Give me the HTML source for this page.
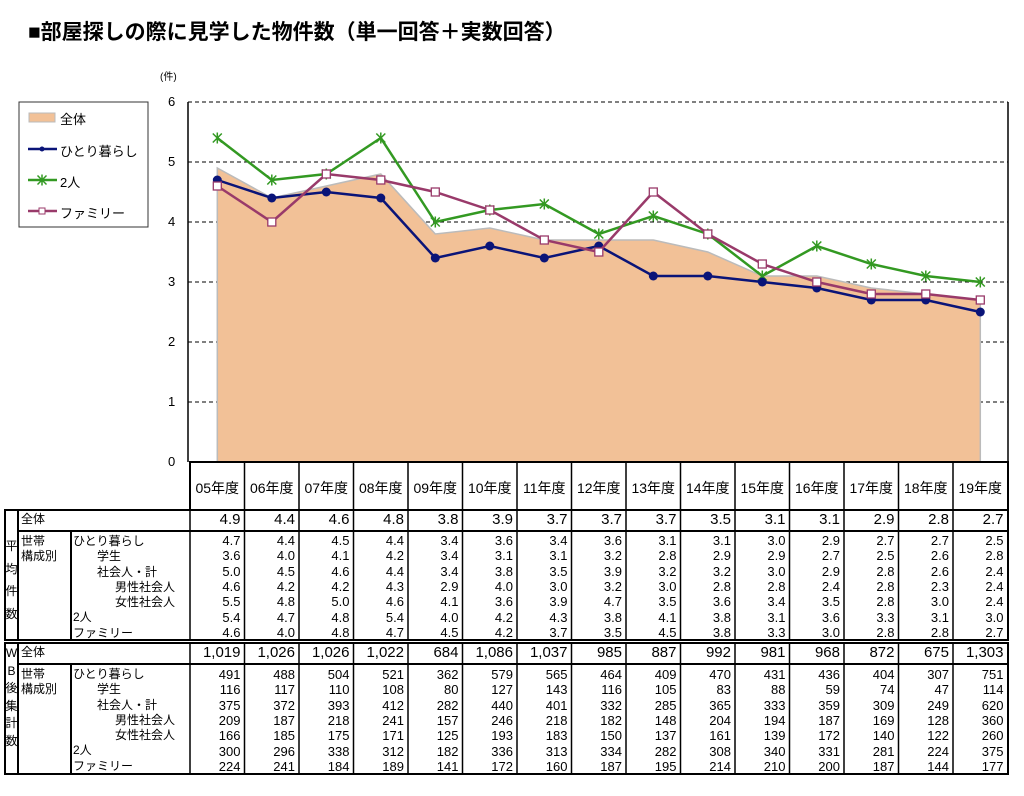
<!DOCTYPE html>
<html><head><meta charset="utf-8"><style>
body{margin:0;width:1024px;height:796px;background:#fff;position:relative;overflow:hidden;font-family:"Liberation Sans","Noto Sans CJK JP",sans-serif;color:#000}
.a{position:absolute;white-space:nowrap}
.r{position:absolute;left:190px;display:flex;font-size:13px;line-height:15px}
.r span{display:block;width:54.5px;text-align:right;padding-right:4px;box-sizing:border-box}
.big{font-size:15px;line-height:18px}
.l{position:absolute;font-size:12px;line-height:15px;white-space:nowrap}
.v{position:absolute;left:5px;width:13px;text-align:center;font-size:12px;line-height:15px}
.h{position:absolute;top:478px;display:flex;left:190px;font-size:14px}
.h span{display:block;width:54.5px;text-align:center}
</style></head><body>
<div class="a" style="left:28px;top:16px;font-size:21px;font-weight:bold">■部屋探しの際に見学した物件数（単一回答＋実数回答）</div>
<svg class="a" style="left:0;top:0" width="1024" height="796">
<defs>
<g id="st"><path d="M-4.5,-4.5L4.5,4.5M-4.5,4.5L4.5,-4.5M0,-5.5L0,5.5" stroke="#339922" stroke-width="1.5" fill="none"/></g>
</defs>
<g stroke="#000" stroke-width="1" stroke-dasharray="4,3">
<line x1="188" y1="102" x2="1008" y2="102"/>
<line x1="188" y1="162" x2="1008" y2="162"/>
<line x1="188" y1="222" x2="1008" y2="222"/>
<line x1="188" y1="282" x2="1008" y2="282"/>
<line x1="188" y1="342" x2="1008" y2="342"/>
<line x1="188" y1="402" x2="1008" y2="402"/>
</g>
<polygon points="217.3,462 217.3,168 271.8,198 326.3,186 380.8,174 435.3,234 489.8,228 544.3,240 598.8,240 653.3,240 707.8,252 762.3,276 816.8,276 871.3,288 925.8,294 980.3,300 980.3,462" fill="#f2c197" stroke="#bbb" stroke-width="1.5"/>
<line x1="188" y1="102" x2="188" y2="462" stroke="#000" stroke-width="1.5"/>
<line x1="1008" y1="102" x2="1008" y2="462" stroke="#000" stroke-width="1.5"/>
<polyline points="217.3,138 271.8,180 326.3,174 380.8,138 435.3,222 489.8,210 544.3,204 598.8,234 653.3,216 707.8,234 762.3,276 816.8,246 871.3,264 925.8,276 980.3,282" fill="none" stroke="#339922" stroke-width="2.5"/>
<g>
<use href="#st" x="217.3" y="138"/><use href="#st" x="271.8" y="180"/><use href="#st" x="326.3" y="174"/><use href="#st" x="380.8" y="138"/><use href="#st" x="435.3" y="222"/><use href="#st" x="489.8" y="210"/><use href="#st" x="544.3" y="204"/><use href="#st" x="598.8" y="234"/><use href="#st" x="653.3" y="216"/><use href="#st" x="707.8" y="234"/><use href="#st" x="762.3" y="276"/><use href="#st" x="816.8" y="246"/><use href="#st" x="871.3" y="264"/><use href="#st" x="925.8" y="276"/><use href="#st" x="980.3" y="282"/>
</g>
<polyline points="217.3,180 271.8,198 326.3,192 380.8,198 435.3,258 489.8,246 544.3,258 598.8,246 653.3,276 707.8,276 762.3,282 816.8,288 871.3,300 925.8,300 980.3,312" fill="none" stroke="#0a1478" stroke-width="2.5"/>
<g fill="#0a1478">
<circle cx="217.3" cy="180" r="4.5"/><circle cx="271.8" cy="198" r="4.5"/><circle cx="326.3" cy="192" r="4.5"/><circle cx="380.8" cy="198" r="4.5"/><circle cx="435.3" cy="258" r="4.5"/><circle cx="489.8" cy="246" r="4.5"/><circle cx="544.3" cy="258" r="4.5"/><circle cx="598.8" cy="246" r="4.5"/><circle cx="653.3" cy="276" r="4.5"/><circle cx="707.8" cy="276" r="4.5"/><circle cx="762.3" cy="282" r="4.5"/><circle cx="816.8" cy="288" r="4.5"/><circle cx="871.3" cy="300" r="4.5"/><circle cx="925.8" cy="300" r="4.5"/><circle cx="980.3" cy="312" r="4.5"/>
</g>
<polyline points="217.3,186 271.8,222 326.3,174 380.8,180 435.3,192 489.8,210 544.3,240 598.8,252 653.3,192 707.8,234 762.3,264 816.8,282 871.3,294 925.8,294 980.3,300" fill="none" stroke="#993a6a" stroke-width="2.5"/>
<g fill="#fff" stroke="#993a6a" stroke-width="1.3">
<rect x="213.3" y="182" width="8" height="8"/><rect x="267.8" y="218" width="8" height="8"/><rect x="322.3" y="170" width="8" height="8"/><rect x="376.8" y="176" width="8" height="8"/><rect x="431.3" y="188" width="8" height="8"/><rect x="485.8" y="206" width="8" height="8"/><rect x="540.3" y="236" width="8" height="8"/><rect x="594.8" y="248" width="8" height="8"/><rect x="649.3" y="188" width="8" height="8"/><rect x="703.8" y="230" width="8" height="8"/><rect x="758.3" y="260" width="8" height="8"/><rect x="812.8" y="278" width="8" height="8"/><rect x="867.3" y="290" width="8" height="8"/><rect x="921.8" y="290" width="8" height="8"/><rect x="976.3" y="296" width="8" height="8"/>
</g>
<rect x="19" y="102" width="129" height="125" fill="#fff" stroke="#333" stroke-width="1"/>
<rect x="29" y="113" width="26" height="9" fill="#f2c197" stroke="#bbb"/>
<line x1="28" y1="149" x2="57" y2="149" stroke="#0a1478" stroke-width="2.5"/><circle cx="42" cy="149" r="2.5" fill="#0a1478"/>
<line x1="28" y1="180" x2="57" y2="180" stroke="#339922" stroke-width="2.5"/><use href="#st" x="42" y="180"/>
<line x1="28" y1="211" x2="57" y2="211" stroke="#993a6a" stroke-width="2.5"/><rect x="39" y="208" width="6" height="6" fill="#fff" stroke="#993a6a"/>
<g stroke="#000" stroke-width="2" fill="none">
<rect x="190" y="462" width="818" height="48"/>
<rect x="5" y="510" width="1003" height="130"/>
<rect x="5" y="643" width="1003" height="131"/>
<line x1="18" y1="531" x2="1008" y2="531"/>
<line x1="18" y1="664" x2="1008" y2="664"/>
<line x1="18" y1="510" x2="18" y2="640"/>
<line x1="18" y1="643" x2="18" y2="774"/>
<line x1="71" y1="531" x2="71" y2="640"/>
<line x1="71" y1="664" x2="71" y2="774"/>
</g>
<g stroke="#000" stroke-width="1.5">
<line x1="190" y1="462" x2="190" y2="774"/><line x1="244.5" y1="462" x2="244.5" y2="774"/><line x1="299" y1="462" x2="299" y2="774"/><line x1="353.5" y1="462" x2="353.5" y2="774"/><line x1="408" y1="462" x2="408" y2="774"/><line x1="462.5" y1="462" x2="462.5" y2="774"/><line x1="517" y1="462" x2="517" y2="774"/><line x1="571.5" y1="462" x2="571.5" y2="774"/><line x1="626" y1="462" x2="626" y2="774"/><line x1="680.5" y1="462" x2="680.5" y2="774"/><line x1="735" y1="462" x2="735" y2="774"/><line x1="789.5" y1="462" x2="789.5" y2="774"/><line x1="844" y1="462" x2="844" y2="774"/><line x1="898.5" y1="462" x2="898.5" y2="774"/><line x1="953" y1="462" x2="953" y2="774"/>
</g>
<line x1="5" y1="641.5" x2="1008" y2="641.5" stroke="#fff" stroke-width="1"/>
</svg>
<div class="a" style="left:160px;top:68px;font-size:10px">(件)</div>
<div class="a" style="left:168px;top:94px;font-size:13px">6</div>
<div class="a" style="left:168px;top:154px;font-size:13px">5</div>
<div class="a" style="left:168px;top:214px;font-size:13px">4</div>
<div class="a" style="left:168px;top:274px;font-size:13px">3</div>
<div class="a" style="left:168px;top:334px;font-size:13px">2</div>
<div class="a" style="left:168px;top:394px;font-size:13px">1</div>
<div class="a" style="left:168px;top:454px;font-size:13px">0</div>
<div class="a" style="left:60px;top:109px;font-size:13px">全体</div>
<div class="a" style="left:60px;top:141px;font-size:13px">ひとり暮らし</div>
<div class="a" style="left:60px;top:172px;font-size:13px">2人</div>
<div class="a" style="left:60px;top:203px;font-size:13px">ファミリー</div>
<div class="h"><span>05年度</span><span>06年度</span><span>07年度</span><span>08年度</span><span>09年度</span><span>10年度</span><span>11年度</span><span>12年度</span><span>13年度</span><span>14年度</span><span>15年度</span><span>16年度</span><span>17年度</span><span>18年度</span><span>19年度</span></div>
<div class="l" style="left:21px;top:512px">全体</div>
<div class="l" style="left:21px;top:645px">全体</div>
<div class="l" style="left:21px;top:534px">世帯<br>構成別</div>
<div class="l" style="left:21px;top:667px">世帯<br>構成別</div>
<div class="l" style="left:73px;top:534px;line-height:15.3px">ひとり暮らし<br>&emsp;&emsp;学生<br>&emsp;&emsp;社会人・計<br>&emsp;&emsp;&emsp;&ensp;男性社会人<br>&emsp;&emsp;&emsp;&ensp;女性社会人<br>2人<br>ファミリー</div>
<div class="l" style="left:73px;top:667px;line-height:15.3px">ひとり暮らし<br>&emsp;&emsp;学生<br>&emsp;&emsp;社会人・計<br>&emsp;&emsp;&emsp;&ensp;男性社会人<br>&emsp;&emsp;&emsp;&ensp;女性社会人<br>2人<br>ファミリー</div>
<div class="v" style="top:535px;line-height:22.5px">平<br>均<br>件<br>数</div>
<div class="v" style="top:645px;line-height:17.5px">W<br>B<br>後<br>集<br>計<br>数</div>
<div class="r big" style="top:511px"><span>4.9</span><span>4.4</span><span>4.6</span><span>4.8</span><span>3.8</span><span>3.9</span><span>3.7</span><span>3.7</span><span>3.7</span><span>3.5</span><span>3.1</span><span>3.1</span><span>2.9</span><span>2.8</span><span>2.7</span></div>
<div class="r" style="top:533px"><span>4.7</span><span>4.4</span><span>4.5</span><span>4.4</span><span>3.4</span><span>3.6</span><span>3.4</span><span>3.6</span><span>3.1</span><span>3.1</span><span>3.0</span><span>2.9</span><span>2.7</span><span>2.7</span><span>2.5</span></div>
<div class="r" style="top:548.3px"><span>3.6</span><span>4.0</span><span>4.1</span><span>4.2</span><span>3.4</span><span>3.1</span><span>3.1</span><span>3.2</span><span>2.8</span><span>2.9</span><span>2.9</span><span>2.7</span><span>2.5</span><span>2.6</span><span>2.8</span></div>
<div class="r" style="top:563.6px"><span>5.0</span><span>4.5</span><span>4.6</span><span>4.4</span><span>3.4</span><span>3.8</span><span>3.5</span><span>3.9</span><span>3.2</span><span>3.2</span><span>3.0</span><span>2.9</span><span>2.8</span><span>2.6</span><span>2.4</span></div>
<div class="r" style="top:578.9px"><span>4.6</span><span>4.2</span><span>4.2</span><span>4.3</span><span>2.9</span><span>4.0</span><span>3.0</span><span>3.2</span><span>3.0</span><span>2.8</span><span>2.8</span><span>2.4</span><span>2.8</span><span>2.3</span><span>2.4</span></div>
<div class="r" style="top:594.2px"><span>5.5</span><span>4.8</span><span>5.0</span><span>4.6</span><span>4.1</span><span>3.6</span><span>3.9</span><span>4.7</span><span>3.5</span><span>3.6</span><span>3.4</span><span>3.5</span><span>2.8</span><span>3.0</span><span>2.4</span></div>
<div class="r" style="top:609.5px"><span>5.4</span><span>4.7</span><span>4.8</span><span>5.4</span><span>4.0</span><span>4.2</span><span>4.3</span><span>3.8</span><span>4.1</span><span>3.8</span><span>3.1</span><span>3.6</span><span>3.3</span><span>3.1</span><span>3.0</span></div>
<div class="r" style="top:624.8px"><span>4.6</span><span>4.0</span><span>4.8</span><span>4.7</span><span>4.5</span><span>4.2</span><span>3.7</span><span>3.5</span><span>4.5</span><span>3.8</span><span>3.3</span><span>3.0</span><span>2.8</span><span>2.8</span><span>2.7</span></div>
<div class="r big" style="top:644px"><span>1,019</span><span>1,026</span><span>1,026</span><span>1,022</span><span>684</span><span>1,086</span><span>1,037</span><span>985</span><span>887</span><span>992</span><span>981</span><span>968</span><span>872</span><span>675</span><span>1,303</span></div>
<div class="r" style="top:667px"><span>491</span><span>488</span><span>504</span><span>521</span><span>362</span><span>579</span><span>565</span><span>464</span><span>409</span><span>470</span><span>431</span><span>436</span><span>404</span><span>307</span><span>751</span></div>
<div class="r" style="top:682.3px"><span>116</span><span>117</span><span>110</span><span>108</span><span>80</span><span>127</span><span>143</span><span>116</span><span>105</span><span>83</span><span>88</span><span>59</span><span>74</span><span>47</span><span>114</span></div>
<div class="r" style="top:697.6px"><span>375</span><span>372</span><span>393</span><span>412</span><span>282</span><span>440</span><span>401</span><span>332</span><span>285</span><span>365</span><span>333</span><span>359</span><span>309</span><span>249</span><span>620</span></div>
<div class="r" style="top:712.9px"><span>209</span><span>187</span><span>218</span><span>241</span><span>157</span><span>246</span><span>218</span><span>182</span><span>148</span><span>204</span><span>194</span><span>187</span><span>169</span><span>128</span><span>360</span></div>
<div class="r" style="top:728.2px"><span>166</span><span>185</span><span>175</span><span>171</span><span>125</span><span>193</span><span>183</span><span>150</span><span>137</span><span>161</span><span>139</span><span>172</span><span>140</span><span>122</span><span>260</span></div>
<div class="r" style="top:743.5px"><span>300</span><span>296</span><span>338</span><span>312</span><span>182</span><span>336</span><span>313</span><span>334</span><span>282</span><span>308</span><span>340</span><span>331</span><span>281</span><span>224</span><span>375</span></div>
<div class="r" style="top:758.8px"><span>224</span><span>241</span><span>184</span><span>189</span><span>141</span><span>172</span><span>160</span><span>187</span><span>195</span><span>214</span><span>210</span><span>200</span><span>187</span><span>144</span><span>177</span></div>
</body></html>
